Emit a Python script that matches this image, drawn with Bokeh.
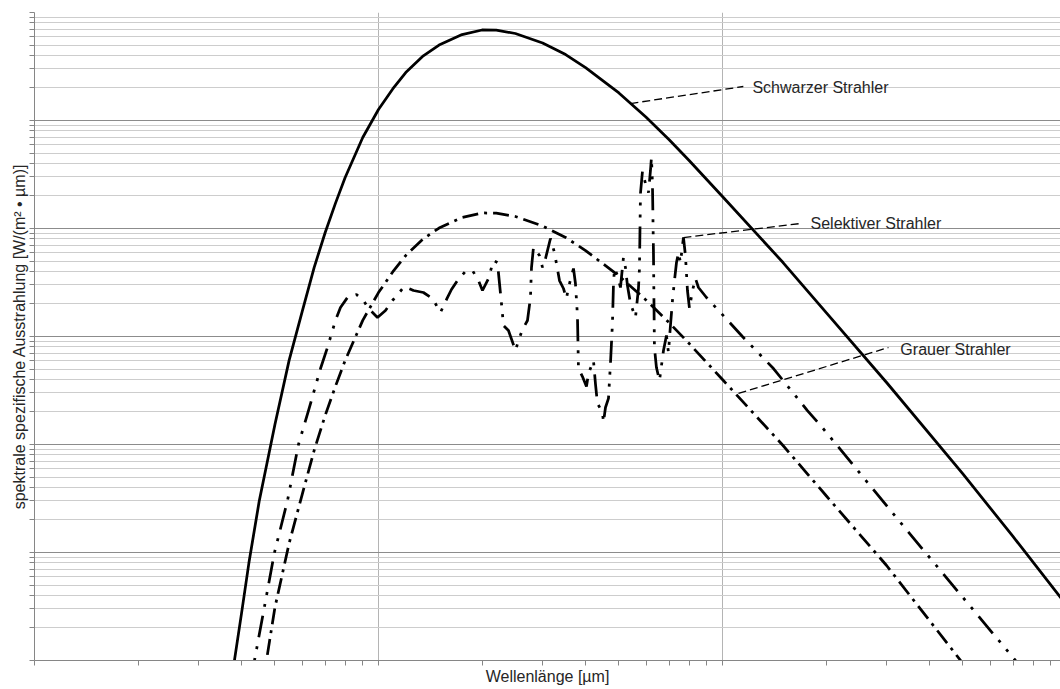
from bokeh.plotting import figure
from bokeh.models import Range1d, FixedTicker, Label, CustomJSTickFormatter
from bokeh.embed import file_html
from bokeh.resources import INLINE

# Wavelength in µm, spectral exitance in W/(m²·µm)

# Black body
bb_wl = [0.37, 0.4, 0.42, 0.45, 0.5, 0.55, 0.6, 0.65, 0.7, 0.75, 0.8, 0.9, 1.0, 1.1,
         1.2, 1.35, 1.5, 1.75, 2.0, 2.2, 2.5, 3.0, 3.5, 4.0, 5.0, 6.0, 7.0, 8.0, 10,
         15, 20, 30, 50, 70, 100]
bb_val = [0.053, 0.276, 0.798, 2.98, 15.3, 60.4, 170, 435, 918, 1718, 2970, 6960,
          12650, 19600, 27800, 39700, 49900, 62500, 68900, 68700, 63900, 52200, 40800,
          30900, 18000, 10700, 6640, 4266, 1980, 484, 167, 37.5, 5.35, 1.40, 0.327]

# Grey body
grey_wl = [0.46, 0.5, 0.55, 0.6, 0.65, 0.7, 0.75, 0.8, 0.9, 1.0, 1.1, 1.2, 1.35, 1.5,
           1.75, 2.0, 2.2, 2.5, 3.0, 3.5, 4.0, 5.0, 6.0, 7.0, 8.0, 10, 15, 20, 30,
           50, 60]
grey_val = [0.0587, 0.310, 1.22, 3.44, 8.8, 18.6, 34.7, 60.0, 141, 255, 396, 562, 803,
            1010, 1265, 1392, 1390, 1291, 1055, 825, 625, 364, 217, 134, 86.1, 40.0,
            9.79, 3.37, 0.758, 0.094, 0.045]

# Selective emitter
sel_wl = [0.4217, 0.4360, 0.4985, 0.5439, 0.5853, 0.6259, 0.6784, 0.7107, 0.7499, 0.7754,
          0.8127, 0.8630, 0.9045, 0.9352, 0.9933, 1.048, 1.098, 1.190, 1.264, 1.351,
          1.436, 1.514, 1.577, 1.630, 1.697, 1.790, 1.876, 1.953, 2.006, 2.088,
          2.159, 2.218, 2.232, 2.278, 2.309, 2.387, 2.502, 2.553, 2.622, 2.711,
          2.766, 2.785, 2.822, 2.938, 2.998, 3.059, 3.162, 3.248, 3.359, 3.450,
          3.520, 3.567, 3.689, 3.738, 3.788, 3.814, 3.917, 4.024, 4.078, 4.217,
          4.273, 4.331, 4.479, 4.509, 4.570, 4.663, 4.725, 4.788, 4.820, 4.853,
          4.952, 5.052, 5.154, 5.224, 5.294, 5.402, 5.586, 5.699, 5.737, 5.776,
          5.853, 5.973, 6.094, 6.176, 6.217, 6.258, 6.300, 6.342, 6.428, 6.560,
          6.738, 6.874, 6.966, 7.060, 7.156, 7.253, 7.351, 7.450, 7.550, 7.702,
          7.805, 7.911, 8.019, 8.181, 8.347, 8.516, 8.985, 9.867, 11.43, 14.07,
          17.66, 19.40, 32.91, 71.08, 76.0]
sel_val = [0.0516, 0.1, 1.0, 3.03, 10.0, 20.6, 50.5, 79.1, 141, 185.6,
           229.7, 244.8, 215.4, 181.7, 150, 174.1, 215.4, 290.4, 266.7, 255.4,
           224.8, 166.8, 220.2, 272.4, 329.9, 399.9, 408.4, 329.9, 266.7, 344.4,
           505.6, 484.2, 391.4, 202.1, 126.4, 113.6, 74.2, 91.8, 116.1, 140.7,
           229.7, 435.3, 667, 562.3, 435.3, 527.5, 808.2, 599.5, 329.9, 278.3,
           224.8, 284.3, 426.2, 309.6, 156.4, 50.5, 42.6, 34.4, 45.4, 59.9,
           36.7, 24.0, 19.8, 16.0, 22.0, 26.7, 56.2, 131.9, 296.7, 426.2,
           367.1, 284.3, 538.9, 435.3, 296.7, 202.1, 150, 278.3, 426.2, 2109,
           3372, 2610, 2154, 3444, 4544, 2610, 625.6, 79.1, 51.6, 39.1,
           74.2, 102.2, 71.1, 126.4, 215.4, 329.9, 484.2, 599.5, 484.2, 825.4,
           562.3, 266.7, 181.7, 266.7, 344.4, 284.3, 229.7, 166.8, 100, 50.5,
           20.6, 14.68, 1.896, 0.1, 0.0758]

# Callouts: leader start (on curve), leader end, text anchor
callout_text = ["Schwarzer Strahler", "Selektiver Strahler", "Grauer Strahler"]
callout_x0 = [5.40, 7.70, 11.13]
callout_y0 = [14360, 825, 29.7]
callout_x1 = [11.5, 16.86, 30.38]
callout_y1 = [20640, 1112, 79.1]
callout_tx = [12.22, 18.03, 32.9]
callout_ty = [20210, 1112, 75.8]

FONT = "Liberation Sans"
TEXT_COLOR = "#262626"
AXIS_COLOR = "#868686"

p = figure(width=1060, height=689,
           x_axis_type="log", y_axis_type="log",
           x_range=Range1d(0.1, 96.1), y_range=Range1d(0.1, 1e5),
           output_backend="svg", toolbar_location=None,
           min_border_left=34, min_border_right=0,
           min_border_top=12, min_border_bottom=29,
           x_axis_label="Wellenlänge [µm]",
           y_axis_label="spektrale spezifische Ausstrahlung [W/(m² • µm)]")
p.outline_line_color = None
p.background_fill_color = "white"
p.border_fill_color = "white"

x_major = [0.1, 1, 10, 100]
x_minor = [k * d for d in (0.1, 1, 10) for k in range(2, 10)]
y_major = [10.0 ** e for e in range(-1, 6)]
y_minor = [k * d for d in y_major[:-1] for k in range(2, 10)]
xt = FixedTicker(ticks=x_major, minor_ticks=x_minor)
yt = FixedTicker(ticks=y_major, minor_ticks=y_minor)
p.xaxis.ticker = xt
p.yaxis.ticker = yt
p.xgrid.ticker = xt
p.ygrid.ticker = yt

p.xgrid.grid_line_color = "#b4b4b4"
p.xgrid.minor_grid_line_color = None
p.ygrid.grid_line_color = "#8c8c8c"
p.ygrid.minor_grid_line_color = "#cdcdcd"

blank = CustomJSTickFormatter(code="return ' ';")
for ax in (p.xaxis, p.yaxis):
    ax.formatter = blank
    ax.axis_line_color = AXIS_COLOR
    ax.major_tick_line_color = AXIS_COLOR
    ax.minor_tick_line_color = AXIS_COLOR
    ax.major_tick_in = 0
    ax.minor_tick_in = 0
    ax.major_tick_out = 5
    ax.minor_tick_out = 5
    ax.major_label_text_font_size = "1px"
    ax.major_label_text_alpha = 0
    ax.major_label_standoff = 0
    ax.axis_label_standoff = 2
    ax.axis_label_text_font = FONT
    ax.axis_label_text_font_size = "16px"
    ax.axis_label_text_font_style = "normal"
    ax.axis_label_text_color = TEXT_COLOR

p.line(bb_wl, bb_val, line_color="black", line_width=2.75)
p.line(grey_wl, grey_val, line_color="black", line_width=2.75, line_dash="16 6 3 6")
p.line(sel_wl, sel_val, line_color="black", line_width=2.75,
       line_dash="22 9 3 9 3 9")

p.segment(callout_x0, callout_y0, callout_x1, callout_y1,
          line_color="black", line_width=1.3, line_dash="8 4")
for t, tx, ty in zip(callout_text, callout_tx, callout_ty):
    p.add_layout(Label(x=tx, y=ty, text=t, text_font=FONT, text_font_size="16px",
                       text_color=TEXT_COLOR, text_baseline="middle",
                       text_align="left"))

open("out.html", "w").write(file_html(p, INLINE))
